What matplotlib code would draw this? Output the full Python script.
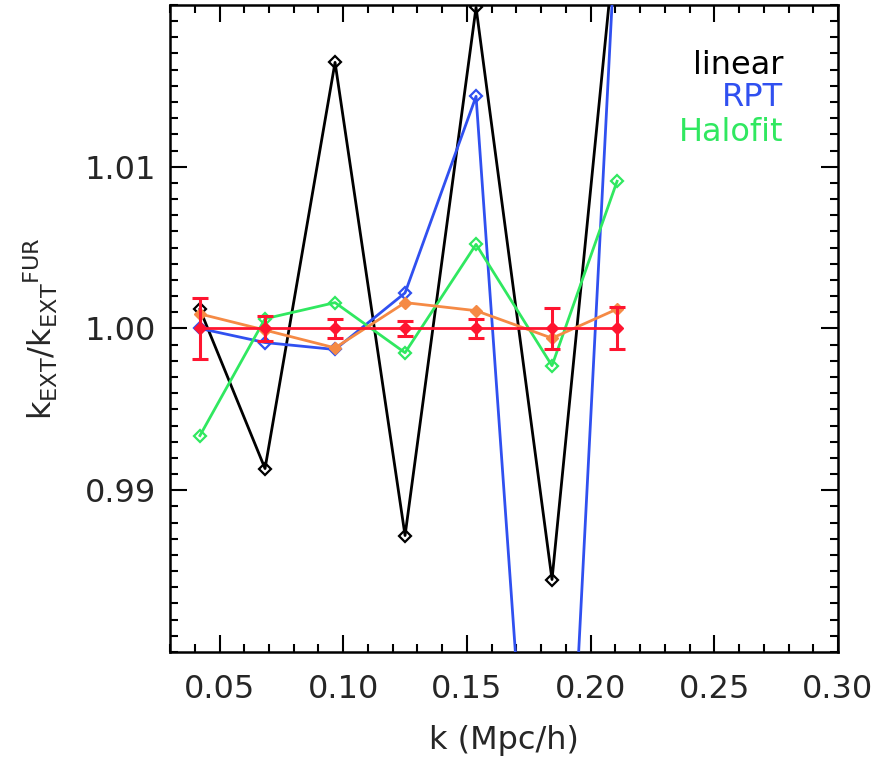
import matplotlib
matplotlib.use('Agg')
import matplotlib.pyplot as plt
from matplotlib.ticker import MultipleLocator, FixedLocator

# k bins (Mpc/h)
k = [0.0421, 0.0684, 0.0967, 0.1250, 0.1537, 0.1844, 0.2107]

# ratio k_EXT / k_EXT^FUR for each model
linear = [1.00118, 0.99134, 1.01645, 0.98720, 1.01985, 0.98448, 1.0251]
rpt = [1.0000, 0.99913, 0.9987, 1.0022, 1.01435, 0.948, 1.0261]
halofit = [0.99338, 1.0006, 1.0016, 0.9985, 1.0052, 0.9977, 1.0091]
orange_vals = [1.0009, 0.9999, 0.9988, 1.0016, 1.0011, 0.9994, 1.0012]
fur = [1.0, 1.0, 1.0, 1.0, 1.0, 1.0, 1.0]
fur_err = [0.0019, 0.0008, 0.0006, 0.00047, 0.0006, 0.00124, 0.0013]

plt.rcParams['font.family'] = 'DejaVu Sans'
txt_col = '#262626'

fig = plt.figure(figsize=(8.93, 7.63), dpi=100)
ax = fig.add_axes([0.1904, 0.1455, 0.748, 0.848])

ax.plot(k, linear, color='black', lw=2.0, marker='D', ms=6, mfc='none', mew=1.6, zorder=3)
ax.plot(k, rpt, color='#3050f0', lw=2.0, marker='D', ms=6, mfc='none', mew=1.6, zorder=3)
ax.plot(k, halofit, color='#30e860', lw=2.0, marker='D', ms=6, mfc='none', mew=1.6, zorder=3)
ax.plot(k, orange_vals, color='#f58a45', lw=2.0, marker='D', ms=6, mfc='#f58a45', zorder=4)
ax.errorbar(k, fur, yerr=fur_err, color='#ff1530', lw=2.0, marker='D', ms=6,
            elinewidth=2.2, capsize=6, capthick=2.2, zorder=5)

ax.set_xlim(0.03, 0.30)
ax.set_ylim(0.98, 1.02)

ax.xaxis.set_major_locator(FixedLocator([0.05, 0.10, 0.15, 0.20, 0.25, 0.30]))
ax.xaxis.set_minor_locator(MultipleLocator(0.01))
ax.yaxis.set_major_locator(FixedLocator([0.99, 1.00, 1.01]))
ax.yaxis.set_minor_locator(MultipleLocator(0.001))
ax.set_xticklabels(['0.05', '0.10', '0.15', '0.20', '0.25', '0.30'])
ax.set_yticklabels(['0.99', '1.00', '1.01'])

ax.tick_params(which='both', direction='in', top=True, right=True, width=1.5,
               labelsize=23, labelcolor=txt_col)
ax.tick_params(axis='x', pad=16)
ax.tick_params(axis='y', pad=10)
ax.tick_params(which='major', length=12)
ax.tick_params(which='minor', length=6)
for s in ax.spines.values():
    s.set_linewidth(1.8)

ax.set_xlabel('k (Mpc/h)', fontsize=23, color=txt_col, labelpad=14)
ax.set_ylabel(r'$\mathregular{k_{EXT}/k_{EXT}{}^{FUR}}$', fontsize=23, color=txt_col, labelpad=18)

# legend as coloured text
ax.text(0.918, 0.907, 'linear', transform=ax.transAxes, ha='right', va='center',
        fontsize=23, color='black')
ax.text(0.918, 0.857, 'RPT', transform=ax.transAxes, ha='right', va='center',
        fontsize=23, color='#3050f0')
ax.text(0.918, 0.803, 'Halofit', transform=ax.transAxes, ha='right', va='center',
        fontsize=23, color='#30e860')

fig.savefig('out.png', dpi=100)
